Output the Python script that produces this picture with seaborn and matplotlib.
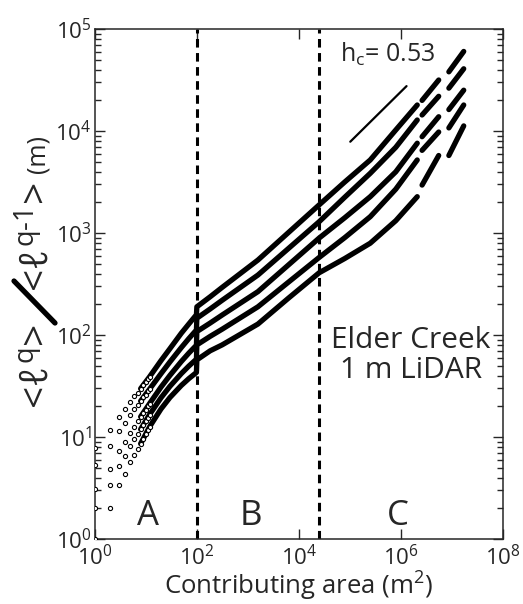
import matplotlib
matplotlib.use("Agg")
import matplotlib.pyplot as plt
from matplotlib.lines import Line2D
from matplotlib.ticker import LogLocator, NullLocator, NullFormatter
import pandas as pd
import seaborn as sns

# small areas: individual hollow circles (one per pixel count)
SMALL_AREA = [1, 2, 3, 4, 5, 6, 7, 8, 9, 10, 11, 12]
SMALL_C1 = [7.8, 11.7, 15.8, 18.7, 22.2, 25.2, 27.2, 29.8, 32, 34.5, 36.8, 39]
SMALL_C2 = [5.3, 8.2, 11.5, 13.6, 16.6, 18.7, 20.6, 22.5, 24.5, 26, 28, 29.5]
SMALL_C3 = [3.1, 4.9, 7.3, 8.9, 11.0, 12.6, 14.3, 15.8, 17.2, 18.6, 20, 21.3]
SMALL_C4 = [2.0, 3.4, 5.2, 6.5, 8.2, 9.5, 10.6, 11.9, 13.1, 14.3, 15.5, 16.6]
SMALL_C5 = [1.0, 2.0, 3.4, 4.3, 5.7, 6.6, 7.6, 8.6, 9.6, 10.6, 11.6, 12.6]

# dense part of the curves
LINE_AREA = [8, 12, 20, 30, 50, 70, 99, 101, 184, 316, 1585, 6300, 25000,
             79400, 251000, 794000, 2.09e6]
LINE_C1 = [29.8, 39, 56, 73.5, 104, 128, 158, 189, 237, 293, 543, 1012, 1884,
           3160, 5200, 10230, 17990]
LINE_C2 = [22.5, 29.5, 41.7, 54.5, 75.2, 92, 112, 146, 180, 219, 387, 706, 1288,
           2240, 3846, 6920, 12820]
LINE_C3 = [15.8, 21.3, 30.8, 40.2, 54.9, 66.3, 79.4, 108, 131, 157, 266, 487, 891,
           1410, 2270, 3980, 7590]
LINE_C4 = [11.9, 16.6, 24.2, 31.4, 41.8, 49.5, 58, 80, 97, 114, 189, 330, 575,
           900, 1445, 2690, 5200]
LINE_C5 = [8.6, 12.6, 18.8, 24.4, 32, 37.3, 42.9, 57, 70, 80, 128, 230, 407,
           562, 794, 1320, 2270]

# sparse tail (broken pieces at the largest areas)
TAIL_AREA = [2.6e6, 5.5e6, 8.7e6, 1.7e7]
TAIL_PIECE = [1, 1, 2, 2]
TAIL_C1 = [19950, 31620, 38020, 60260]
TAIL_C2 = [14350, 21880, 26300, 40740]
TAIL_C3 = [8790, 13800, 16220, 25120]
TAIL_C4 = [6460, 9770, 10720, 17990]
TAIL_C5 = [2950, 5750, 5750, 11220]

# reference slope segment and scaling breaks
HC_AREA = [1.02e5, 1.29e6]
HC_VALUE = [7850, 27540]
BREAKS = [101, 25100]
REGION_LABELS = ["A", "B", "C"]

small = [SMALL_C1, SMALL_C2, SMALL_C3, SMALL_C4, SMALL_C5]
dense = [LINE_C1, LINE_C2, LINE_C3, LINE_C4, LINE_C5]
tails = [TAIL_C1, TAIL_C2, TAIL_C3, TAIL_C4, TAIL_C5]

rows = []
pts = []
for i in range(5):
    for a, v in zip(LINE_AREA, dense[i]):
        rows.append({"area": a, "value": v, "piece": f"{i}-0"})
    for a, v, p in zip(TAIL_AREA, tails[i], TAIL_PIECE):
        rows.append({"area": a, "value": v, "piece": f"{i}-{p}"})
    for a, v in zip(SMALL_AREA, small[i]):
        pts.append({"area": a, "value": v})
df = pd.DataFrame(rows)
df_pts = pd.DataFrame(pts)

sns.set_style("ticks")
plt.rcParams["font.family"] = ["Open Sans", "DejaVu Sans"]
plt.rcParams["mathtext.fontset"] = "custom"
plt.rcParams["mathtext.rm"] = "Open Sans"
plt.rcParams["mathtext.it"] = "Open Sans:italic"
plt.rcParams["mathtext.bf"] = "Open Sans:bold"

fig = plt.figure(figsize=(5.23, 6.04), dpi=100)
ax = fig.add_axes([0.1807, 0.1076, 0.7811, 0.8444])
ax.set_xscale("log")
ax.set_yscale("log")

sns.lineplot(data=df, x="area", y="value", units="piece", estimator=None,
             color="black", lw=3.8, sort=False, ax=ax, legend=False)
sns.scatterplot(data=df_pts, x="area", y="value", marker="o", s=9,
                facecolor="white", edgecolor="black", linewidth=0.8, ax=ax,
                legend=False, zorder=3)
sns.lineplot(x=HC_AREA, y=HC_VALUE, color="black", lw=1.6, ax=ax)
for b in BREAKS:
    ax.axvline(b, color="black", lw=2.2, linestyle=(0, (2.8, 1.8)))

ax.set_xlim(1, 1e8)
ax.set_ylim(1, 1e5)
ax.set_xticks([1, 1e2, 1e4, 1e6, 1e8])
ax.xaxis.set_minor_locator(NullLocator())
ax.yaxis.set_major_locator(LogLocator(base=10, numticks=10))
ax.yaxis.set_minor_locator(LogLocator(base=10, subs=range(2, 10), numticks=10))
ax.yaxis.set_minor_formatter(NullFormatter())
ax.tick_params(which="both", direction="in", top=True, right=True,
               labelsize=16, width=1)
ax.tick_params(axis="y", pad=2)
ax.tick_params(axis="x", pad=4)
ax.tick_params(which="major", length=7)
ax.tick_params(which="minor", length=4)
for s in ax.spines.values():
    s.set_linewidth(1.1)

ax.set_xlabel("Contributing area (m$^2$)", fontsize=18.5, labelpad=0)
ax.set_ylabel("")

for lab, xf in zip(REGION_LABELS, [0.131, 0.383, 0.743]):
    ax.text(xf, 0.045, lab, transform=ax.transAxes, fontsize=25,
            ha="center", va="center")
ax.text(0.601, 0.935, r"h$_{\mathrm{c}}$= 0.53", transform=ax.transAxes,
        fontsize=18, ha="left", va="baseline")
ax.text(0.775, 0.36, "Elder Creek\n1 m LiDAR", transform=ax.transAxes,
        fontsize=21.5, ha="center", va="center", linespacing=1.05)

# y label assembled from pieces (large brackets and a bold slash)
W, H = 523, 604
fig.text(38 / W, 1 - 366 / H, r"<$\ell^{\mathrm{q}}$>", rotation=90,
         fontsize=28, ha="center", va="center")
fig.text(38 / W, 1 - 237 / H, r"<$\ell^{\mathrm{q\text{-}1}}$>", rotation=90,
         fontsize=28, ha="center", va="center")
fig.text(38 / W, 1 - 154 / H, "(m)", rotation=90, fontsize=18,
         ha="center", va="center")
fig.add_artist(Line2D([14 / W, 55 / W], [1 - 281 / H, 1 - 323 / H],
                      transform=fig.transFigure, color="black", lw=3.8))

fig.savefig("out.png", dpi=100)
